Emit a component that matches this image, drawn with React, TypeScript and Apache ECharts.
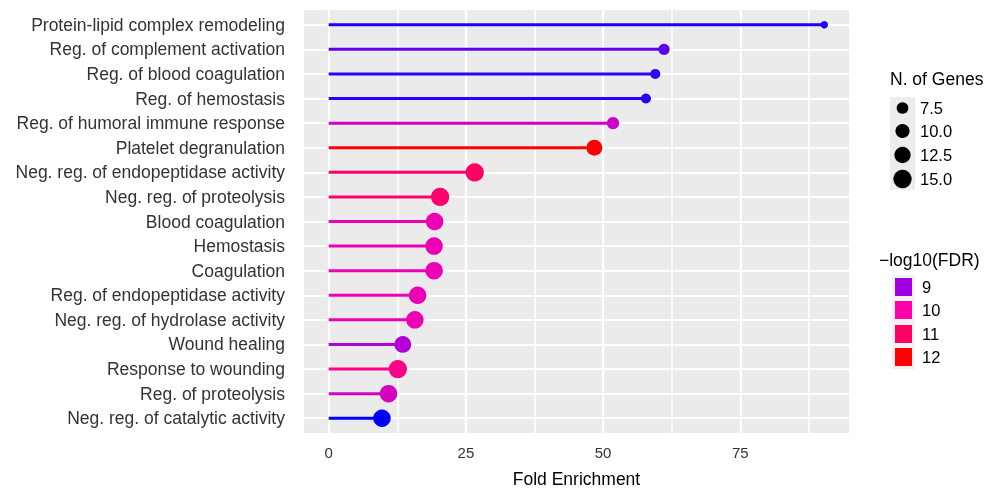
import React, { useEffect, useRef } from "react";
import * as echarts from "echarts";

const categories = [
  "Protein-lipid complex remodeling",
  "Reg. of complement activation",
  "Reg. of blood coagulation",
  "Reg. of hemostasis",
  "Reg. of humoral immune response",
  "Platelet degranulation",
  "Neg. reg. of endopeptidase activity",
  "Neg. reg. of proteolysis",
  "Blood coagulation",
  "Hemostasis",
  "Coagulation",
  "Reg. of endopeptidase activity",
  "Neg. reg. of hydrolase activity",
  "Wound healing",
  "Response to wounding",
  "Reg. of proteolysis",
  "Neg. reg. of catalytic activity",
];
const foldEnrichment = [90.3, 61.1, 59.5, 57.8, 51.8, 48.4, 26.6, 20.3, 19.3, 19.2, 19.2, 16.2, 15.7, 13.5, 12.6, 10.9, 9.7];
const geneCounts = [4, 7, 6, 6, 8, 12, 15, 15, 14, 14, 14, 14, 14, 13, 15, 14, 14];
const negLog10FDR = [8.36, 8.65, 8.45, 8.4, 9.46, 12.0, 11.0, 10.85, 9.8, 9.8, 9.8, 9.8, 9.8, 9.17, 10.45, 9.55, 8.2];

const xTicks = [0, 25, 50, 75];
const xMinorTicks = [12.5, 37.5, 62.5, 87.5];
const sizeBreaks = [7.5, 10, 12.5, 15];
const colorBreaks = [9, 10, 11, 12];

const colorStops: [number, [number, number, number]][] = [
  [8.2, [0, 0, 255]],
  [9, [160, 0, 224]],
  [10, [255, 0, 170]],
  [11, [255, 0, 102]],
  [12, [255, 0, 0]],
];

function colorFor(v: number): string {
  if (v <= colorStops[0][0]) {
    const c = colorStops[0][1];
    return `rgb(${c[0]},${c[1]},${c[2]})`;
  }
  for (let i = 1; i < colorStops.length; i++) {
    const [v1, c1] = colorStops[i];
    const [v0, c0] = colorStops[i - 1];
    if (v <= v1) {
      const t = (v - v0) / (v1 - v0);
      const c = c0.map((a, k) => Math.round(a + (c1[k] - a) * t));
      return `rgb(${c[0]},${c[1]},${c[2]})`;
    }
  }
  const c = colorStops[colorStops.length - 1][1];
  return `rgb(${c[0]},${c[1]},${c[2]})`;
}

function dotSize(g: number): number {
  return -4.2 + 5.8 * Math.sqrt(g);
}

const FONT = '"Liberation Sans", Arial, Helvetica, sans-serif';

export default function App() {
  const ref = useRef<HTMLDivElement>(null);
  useEffect(() => {
    if (!ref.current) return;
    const chart = echarts.init(ref.current, undefined, { renderer: "svg" });

    const rows = categories.map((_, i) => i);
    const gridLines: any[] = [];
    xTicks.forEach((v) => gridLines.push({ xAxis: v, lineStyle: { color: "#ffffff", width: 2.2, type: "solid" } }));
    xMinorTicks.forEach((v) => gridLines.push({ xAxis: v, lineStyle: { color: "#ffffff", width: 1.6, type: "solid" } }));
    rows.forEach((v) => gridLines.push({ yAxis: v, lineStyle: { color: "#ffffff", width: 2.2, type: "solid" } }));

    const graphics: any[] = [];
    // Size legend
    graphics.push({ type: "text", left: 890, top: 70, style: { text: "N. of Genes", font: `17.5px ${FONT}`, fill: "#000" } });
    graphics.push({ type: "rect", shape: { x: 890, y: 97, width: 25, height: 93 }, style: { fill: "#ededed" } });
    const sizeYs = [108, 131, 155, 179];
    sizeBreaks.forEach((b, i) => {
      graphics.push({ type: "circle", shape: { cx: 902.5, cy: sizeYs[i], r: dotSize(b) / 2 }, style: { fill: "#000" } });
      graphics.push({ type: "text", x: 920, y: sizeYs[i], style: { text: b.toFixed(1), font: `16.5px ${FONT}`, fill: "#000", verticalAlign: "middle" } });
    });
    // Color legend
    graphics.push({ type: "text", left: 879, top: 251, style: { text: "\u2212log10(FDR)", font: `17.5px ${FONT}`, fill: "#000" } });
    const colYs = [287, 310, 334, 357];
    graphics.push({ type: "rect", shape: { x: 892, y: 275, width: 23, height: 94 }, style: { fill: "#f2f2f2" } });
    colorBreaks.forEach((b, i) => {
      graphics.push({ type: "rect", shape: { x: 895, y: colYs[i] - 9, width: 17, height: 18 }, style: { fill: colorFor(b) } });
      graphics.push({ type: "text", x: 922, y: colYs[i], style: { text: String(b), font: `16.5px ${FONT}`, fill: "#000", verticalAlign: "middle" } });
    });

    chart.setOption({
      animation: false,
      grid: {
        left: 304,
        top: 10,
        width: 545,
        height: 423,
        show: true,
        backgroundColor: "#ebebeb",
        borderWidth: 0,
        containLabel: false,
        outerBoundsMode: "none",
      },
      xAxis: {
        type: "value",
        min: -4.5,
        max: 94.8,
        axisLine: { show: false },
        axisTick: { show: true, customValues: xTicks, length: 4, lineStyle: { color: "#222", width: 2 } },
        axisLabel: { customValues: xTicks, color: "#333", fontSize: 15, margin: 12, fontFamily: FONT },
        splitLine: { show: false },
        name: "Fold Enrichment",
        nameLocation: "middle",
        nameGap: 37,
        nameTextStyle: { color: "#000", fontSize: 17.5, fontFamily: FONT },
      },
      yAxis: {
        type: "value",
        inverse: true,
        min: -0.6,
        max: 16.6,
        axisLine: { show: false },
        axisTick: { show: false },
        splitLine: { show: false },
        axisLabel: {
          customValues: rows,
          formatter: (v: number) => categories[Math.round(v)] ?? "",
          color: "#333",
          fontSize: 17.5,
          margin: 19,
          fontFamily: FONT,
        },
      },
      series: [
        {
          type: "line",
          data: [],
          z: 1,
          silent: true,
          markLine: {
            z: 1,
            silent: true,
            symbol: ["none", "none"],
            label: { show: false },
            animation: false,
            data: gridLines,
          },
        },
        {
          type: "custom",
          z: 2,
          silent: true,
          data: categories.map((_, i) => [foldEnrichment[i], i, negLog10FDR[i]]),
          encode: { x: 0, y: 1 },
          renderItem: (params: any, api: any) => {
            const p0 = api.coord([0, api.value(1)]);
            const p1 = api.coord([api.value(0), api.value(1)]);
            return {
              type: "line",
              shape: { x1: p0[0], y1: p0[1], x2: p1[0], y2: p1[1] },
              style: { stroke: colorFor(api.value(2)), lineWidth: 3 },
            };
          },
        },
        {
          type: "scatter",
          z: 3,
          data: categories.map((_, i) => [foldEnrichment[i], i, geneCounts[i], negLog10FDR[i]]),
          symbolSize: (val: number[]) => dotSize(val[2]),
          itemStyle: { color: (p: any) => colorFor(p.value[3]), opacity: 1 },
        },
      ],
      graphic: graphics,
    });
    return () => chart.dispose();
  }, []);
  return <div ref={ref} style={{ position: "fixed", left: 0, top: 0, width: 993, height: 488 }} />;
}
